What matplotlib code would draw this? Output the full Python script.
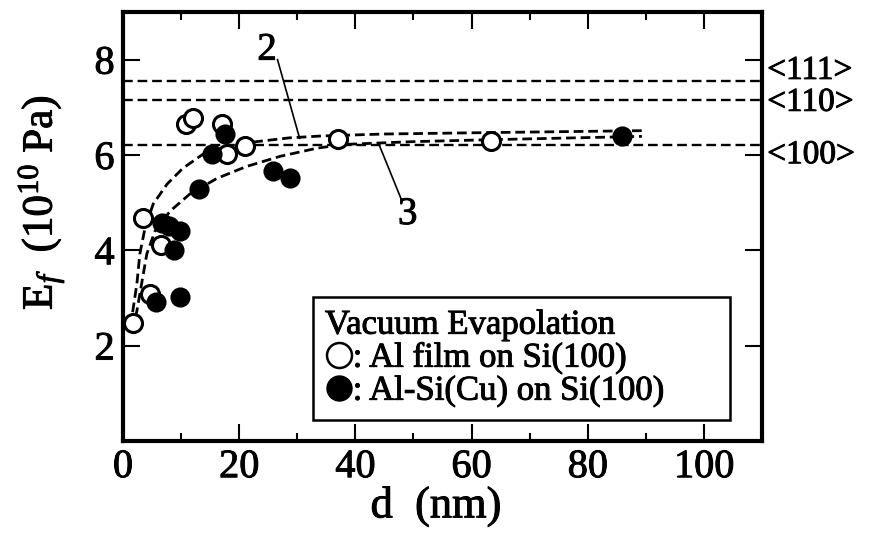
import matplotlib
matplotlib.use("Agg")
import matplotlib.pyplot as plt
import matplotlib.patheffects as pe
from matplotlib.lines import Line2D

plt.rcParams['font.family'] = ['Liberation Serif', 'DejaVu Serif']
plt.rcParams['mathtext.fontset'] = 'custom'
plt.rcParams['mathtext.rm'] = 'Liberation Serif'
plt.rcParams['mathtext.it'] = 'Liberation Serif:italic'
plt.rcParams['lines.scale_dashes'] = False

# Al film on Si(100), open circles
al_d = [1.7, 3.4, 4.6, 6.5, 10.8, 12.0, 17.0, 17.9, 21.0, 37.0, 63.4]
al_e = [2.48, 4.67, 3.08, 4.12, 6.66, 6.78, 6.66, 6.01, 6.18, 6.33, 6.30]

# Al-Si(Cu) on Si(100), filled circles
alsi_d = [5.6, 6.8, 8.0, 8.8, 9.8, 9.8, 13.1, 15.3, 17.5, 25.8, 28.7, 85.9]
alsi_e = [2.92, 4.57, 4.50, 4.00, 4.40, 3.02, 5.28, 6.03, 6.43, 5.66, 5.51, 6.39]

# fitted curves 2 and 3
curve2_d = [1.2, 1.7, 2.4, 2.9, 3.8, 5.2, 7.6, 10.3, 13.7, 18.0, 23.0, 28.7, 34.4, 45.0, 63.0, 89.3]
curve2_e = [2.40, 2.73, 3.30, 3.92, 4.47, 4.97, 5.39, 5.72, 6.01, 6.17, 6.28, 6.36, 6.40, 6.44, 6.47, 6.51]
curve3_d = [1.6, 2.4, 3.3, 4.1, 5.5, 8.1, 11.5, 16.2, 21.3, 27.0, 33.3, 37.8, 50.0, 63.0, 89.3]
curve3_e = [2.30, 2.73, 3.36, 3.92, 4.40, 4.82, 5.18, 5.51, 5.76, 5.97, 6.14, 6.22, 6.28, 6.32, 6.39]

# bulk Si moduli along crystal directions
bulk_labels = ['<111>', '<110>', '<100>']
bulk_e = [7.56, 7.16, 6.21]
bulk_label_y = [7.77, 7.10, 6.00]

thick = [pe.withStroke(linewidth=0.7, foreground='black')]

fig = plt.figure(figsize=(8.69, 5.35), dpi=100)
ax = fig.add_axes([0.1415, 0.176, 0.7355, 0.8015])

dash = (0, (7, 3.5))
for e in bulk_e:
    ax.axhline(e, color='black', lw=1.7, linestyle=dash, zorder=1)

ax.plot(curve2_d, curve2_e, color='black', lw=2.0, linestyle=dash, zorder=2)
ax.plot(curve3_d, curve3_e, color='black', lw=2.0, linestyle=dash, zorder=2)

ax.plot(al_d, al_e, 'o', ms=13, mfc='white', mec='black', mew=2.2, zorder=3)
ax.plot(alsi_d, alsi_e, 'o', ms=13, mfc='black', mec='black', mew=1.5, zorder=4)

# curve labels with leader lines
ax.plot([26.6, 30.4], [8.0, 6.35], color='black', lw=1.2)
ax.text(24.8, 8.2, '2', fontsize=28, ha='center', va='center', path_effects=thick)
ax.plot([44.2, 47.9], [6.18, 5.07], color='black', lw=1.2)
ax.text(49.0, 4.75, '3', fontsize=28, ha='center', va='center', path_effects=thick)

for lab, y in zip(bulk_labels, bulk_label_y):
    ax.text(1.008, y, lab, transform=ax.get_yaxis_transform(), fontsize=24,
            ha='left', va='center', clip_on=False, path_effects=thick)

ax.set_xlim(0, 110)
ax.set_ylim(0, 9)
ax.set_xticks([0, 20, 40, 60, 80, 100])
ax.set_xticks([10, 30, 50, 70, 90], minor=True)
ax.set_yticks([2, 4, 6, 8])
ax.tick_params(which='both', direction='in', top=True, right=True, width=1.5,
               labelsize=29, pad=6)
ax.tick_params(which='major', length=12)
ax.tick_params(which='minor', length=6)
for s in ax.spines.values():
    s.set_linewidth(3)
for lab in ax.get_xticklabels() + ax.get_yticklabels():
    lab.set_path_effects(thick)

ax.set_xlabel('d  (nm)', fontsize=32, path_effects=thick)
ax.set_ylabel(r'E$_{f}$  (10$^{10}$ Pa)', fontsize=31, path_effects=thick)
ax.xaxis.set_label_coords(0.49, -0.105)
ax.yaxis.set_label_coords(-0.09, 0.555)

handles = [
    Line2D([], [], ls='none', marker='o', ms=18, mfc='white', mec='black', mew=1.8),
    Line2D([], [], ls='none', marker='o', ms=18, mfc='black', mec='black'),
]
leg = ax.legend(handles, [': Al film on Si(100)', ': Al-Si(Cu) on Si(100)'],
                title='Vacuum Evapolation', title_fontsize=25, fontsize=25,
                loc='lower left', bbox_to_anchor=(0.297, 0.049, 0.653, 0.3),
                mode='expand', handlelength=0.8, handletextpad=0.0,
                borderpad=0.35, labelspacing=0.0, fancybox=False,
                edgecolor='black', framealpha=1, alignment='left',
                borderaxespad=0)
leg.get_frame().set_linewidth(1.8)
for t in leg.get_texts() + [leg.get_title()]:
    t.set_path_effects(thick)

fig.savefig('out.png', dpi=100)
